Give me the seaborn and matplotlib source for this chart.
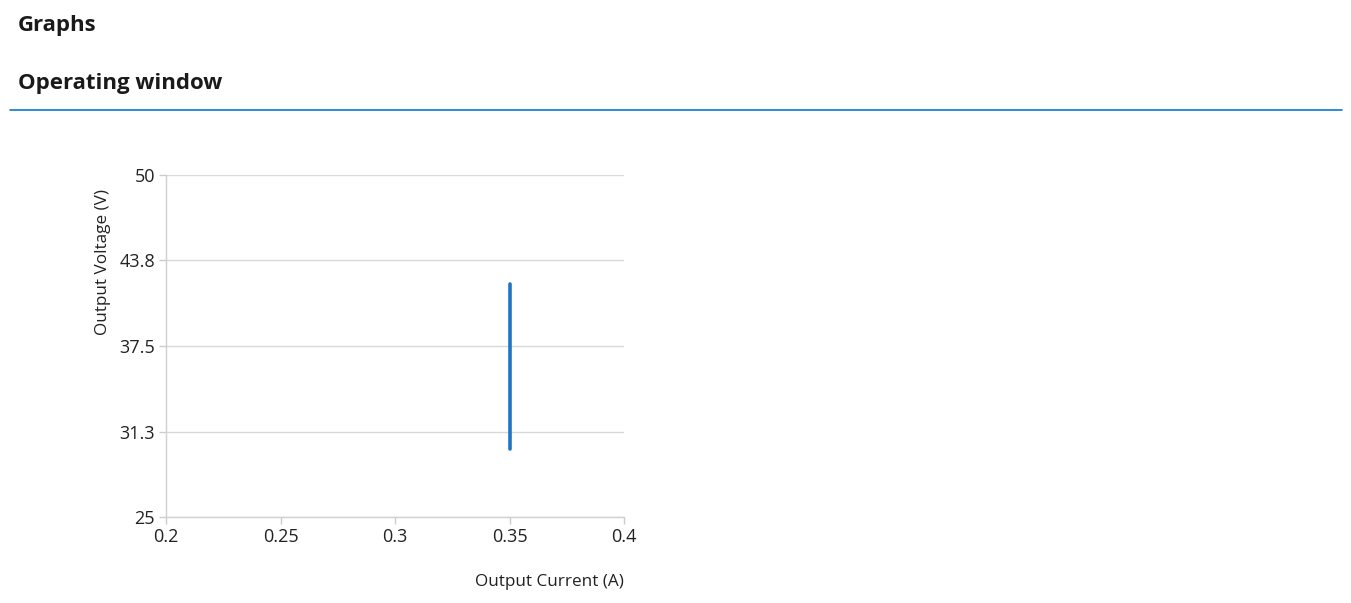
import matplotlib
matplotlib.use("Agg")
import matplotlib.pyplot as plt
from matplotlib.lines import Line2D
import seaborn as sns

# Operating window data
current_a = [0.35, 0.35]
voltage_v = [30, 42]

x_ticks = [0.2, 0.25, 0.3, 0.35, 0.4]
x_labels = ["0.2", "0.25", "0.3", "0.35", "0.4"]
y_ticks = [25, 31.25, 37.5, 43.75, 50]
y_labels = ["25", "31.3", "37.5", "43.8", "50"]

sns.set_style("white")
plt.rcParams["font.family"] = ["Open Sans", "DejaVu Sans"]

fig = plt.figure(figsize=(13.51, 6.03), dpi=100)
ax = fig.add_axes([0.1229, 0.1426, 0.339, 0.5672])

sns.lineplot(x=current_a, y=voltage_v, estimator=None, sort=False,
             color="#1f75c4", linewidth=2.6, ax=ax)

ax.set_xlim(0.2, 0.4)
ax.set_ylim(25, 50)
ax.set_xticks(x_ticks)
ax.set_xticklabels(x_labels)
ax.set_yticks(y_ticks)
ax.set_yticklabels(y_labels)
ax.tick_params(axis="both", labelsize=13, colors="#cccccc", labelcolor="#222222",
               length=5, width=1, direction="out", left=True, bottom=True, pad=3)

ax.yaxis.grid(True, color="#d9d9d9", linewidth=1)
ax.xaxis.grid(False)
for side in ["top", "right"]:
    ax.spines[side].set_visible(False)
for side in ["left", "bottom"]:
    ax.spines[side].set_color("#d0d0d0")
    ax.spines[side].set_linewidth(1)

ax.set_xlabel("Output Current (A)", fontsize=12.3, color="#222222", ha="right")
ax.xaxis.set_label_coords(1.0, -0.166)
ax.set_ylabel("Output Voltage (V)", fontsize=12.3, color="#222222", va="center")
ax.yaxis.set_label_coords(-0.138, 0.746)

# page header
fig.text(0.0133, 0.958, "Graphs", fontsize=16, fontweight="bold",
         color="#1a1a1a", va="center")
fig.text(0.0133, 0.862, "Operating window", fontsize=16, fontweight="bold",
         color="#1a1a1a", va="center")
fig.add_artist(Line2D([0.0074, 0.9933], [0.8176, 0.8176],
                      transform=fig.transFigure, color="#0b78d0", linewidth=1.2))

fig.savefig("out.png", dpi=100)
